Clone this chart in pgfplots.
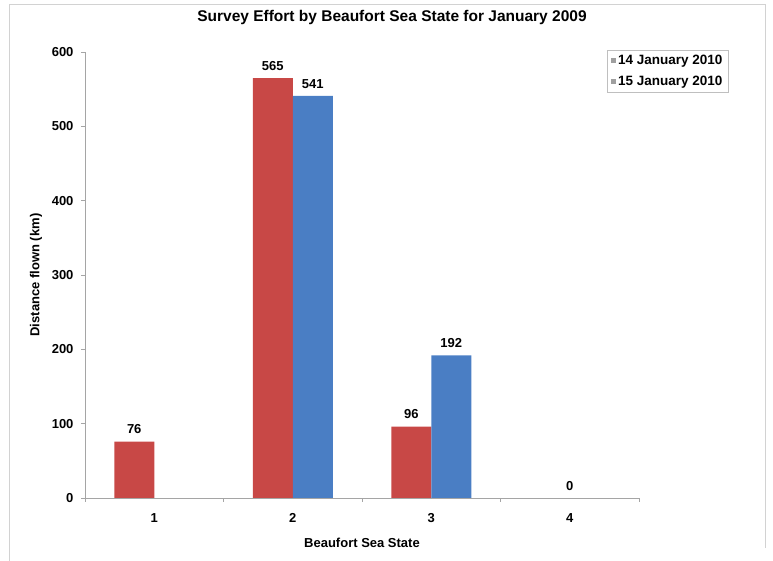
\documentclass[border=0pt]{standalone}
\usepackage{pgfplots}
\pgfplotsset{compat=1.18}
\usepackage{fontspec}
\setmainfont{Liberation Sans}
\definecolor{barred}{RGB}{200,72,70}
\definecolor{barblue}{RGB}{74,126,196}
\definecolor{axgray}{RGB}{165,165,165}
\begin{document}
\begin{tikzpicture}
\path[use as bounding box] (0pt,0pt) rectangle (773pt,561pt);
\draw[gray!35, line width=0.8pt] (9pt,0pt) -- (9pt,557pt) -- (765pt,557pt) -- (765pt,13pt);
\node[font=\bfseries\fontsize{15.5}{17}\selectfont] at (392pt,543pt) {Survey Effort by Beaufort Sea State for January 2009};
\begin{axis}[
  at={(85pt,63pt)}, anchor=south west,
  scale only axis, width=554pt, height=446pt,
  xmin=0.5, xmax=4.5, ymin=0, ymax=600,
  axis lines=left,
  axis line style={-, draw=axgray, line width=0.8pt},
  tick style={draw=axgray, line width=0.8pt},
  tick align=outside,
  major tick length=4pt,
  xtick={0.5,1.5,2.5,3.5,4.5},
  xticklabels={},
  extra x ticks={1,2,3,4},
  extra x tick labels={1,2,3,4},
  extra x tick style={major tick length=0pt},
  ytick={0,100,200,300,400,500,600},
  /pgf/number format/assume math mode=true,
  tick label style={font=\bfseries\fontsize{13}{15}\selectfont},
  x tick label style={yshift=-12pt},
  y tick label style={xshift=-4pt},
  xlabel={Beaufort Sea State},
  ylabel={Distance flown (km)},
  every axis x label/.style={at={(axis description cs:0.5,0)}, yshift=-45pt, anchor=center, font=\bfseries\fontsize{13}{15}\selectfont},
  every axis y label/.style={at={(axis description cs:-0.0884,0.5)}, rotate=90, anchor=center, font=\bfseries\fontsize{13}{15}\selectfont},
  ybar, bar width=40pt,
  nodes near coords,
  every node near coord/.append style={font=\bfseries\fontsize{13}{15}\selectfont, black, yshift=4pt},
  legend style={at={(rel axis cs:0.942,1.0045)}, anchor=north west, draw=gray!50,
    font=\bfseries\fontsize{13.5}{15}\selectfont, cells={anchor=west}, row sep=6pt,
    inner xsep=4pt, inner ysep=3pt},
  legend image code/.code={\fill[gray!75] (0pt,-2.5pt) rectangle (5pt,2.5pt);},
  clip=false,
]
\addplot[draw=none, fill=barred, bar shift=-20pt] coordinates {(1,76) (2,565) (3,96)};
\addlegendentry{14 January 2010}
\addplot[draw=none, fill=barblue, bar shift=20pt] coordinates {(2,541) (3,192)};
\addlegendentry{15 January 2010}
\addplot[draw=none, fill=none, bar shift=0pt, forget plot] coordinates {(4,0)};
\end{axis}
\end{tikzpicture}
\end{document}
